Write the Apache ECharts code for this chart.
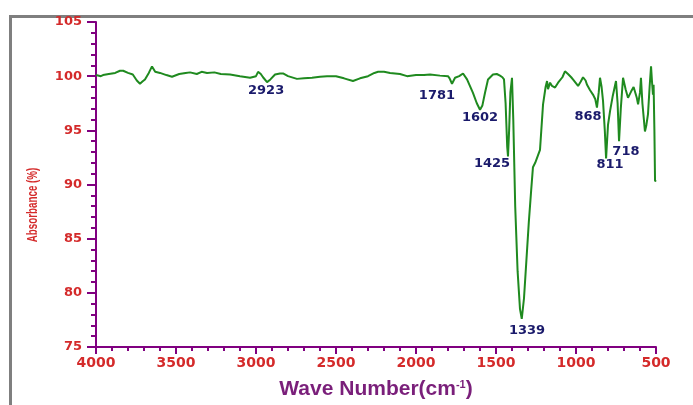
<!DOCTYPE html>
<html>
<head>
<meta charset="utf-8">
<script src="https://cdn.jsdelivr.net/npm/echarts@6/dist/echarts.min.js"></script>
<style>
html,body{margin:0;padding:0;background:#fff;}
#c{width:693px;height:405px;}
</style>
</head>
<body>
<div id="c"></div>
<script>
// Wavenumber (cm-1) and absorbance (%)
const wavenumbers = [4000,3970,3956,3920,3880,3850,3830,3800,3770,3745,3725,3710,3694,3670,3650,3640,3630,3600,3560,3525,3480,3440,3412,3370,3340,3306,3260,3220,3162,3100,3037,3000,2987,2970,2956,2931,2910,2881,2850,2831,2800,2744,2700,2650,2600,2556,2500,2450,2394,2350,2300,2260,2237,2200,2162,2100,2056,2000,1950,1912,1850,1800,1790,1775,1756,1730,1706,1681,1644,1620,1600,1585,1569,1550,1519,1495,1475,1460,1450,1440,1430,1425,1418,1410,1400,1392,1380,1365,1350,1339,1325,1310,1295,1280,1269,1255,1244,1225,1206,1190,1181,1175,1162,1150,1131,1112,1100,1085,1069,1050,1030,1019,987,970,956,940,931,912,894,880,869,858,850,840,831,820,812,800,787,770,750,740,731,720,706,690,675,655,640,631,620,612,600,594,585,569,560,550,540,531,525,519,515,510,506,500];
const absorbance = [100.1,100.0,100.1,100.2,100.3,100.5,100.5,100.3,100.15,99.6,99.3,99.5,99.7,100.3,100.9,100.8,100.4,100.3,100.1,99.95,100.2,100.3,100.35,100.2,100.4,100.3,100.35,100.2,100.15,100.0,99.85,100.0,100.4,100.2,99.9,99.45,99.7,100.15,100.25,100.25,100.0,99.75,99.8,99.85,99.95,100.0,100.0,99.8,99.55,99.8,100.0,100.3,100.4,100.4,100.3,100.2,100.0,100.1,100.1,100.15,100.05,100.0,99.8,99.3,99.85,100.0,100.25,99.7,98.45,97.5,96.9,97.3,98.45,99.7,100.15,100.2,100.05,99.9,99.7,97.5,93.5,92.6,95.0,98.5,99.85,96.0,88.0,82.0,78.5,77.6,79.5,83.0,86.5,89.5,91.6,92.0,92.1,93.2,97.4,99.0,99.55,98.8,99.4,99.1,98.95,99.4,99.3,99.9,100.45,100.2,99.9,99.7,99.1,99.5,99.9,99.6,99.2,98.7,98.3,97.9,97.1,98.5,99.85,99.0,97.7,95.0,92.4,95.5,96.8,98.2,99.55,97.5,94.0,97.0,99.85,98.8,98.0,98.6,99.0,99.1,98.0,97.4,98.5,99.85,97.5,94.9,95.5,96.5,99.0,100.9,99.5,98.3,99.2,95.0,90.3,90.4];

// Peak annotations: text and anchor (data units)
const peakLabels = ['2923','1781','1602','1425','1339','868','811','718'];
const peakLabelX = [2937,1869,1600,1525,1306,925,787,688];
const peakLabelY = [98.68,98.17,96.2,91.9,76.55,96.27,91.8,93.0];

const xTicks = {min:500, max:4000, interval:500};
const yTicks = {min:75, max:105, interval:5};

const lineData = wavenumbers.map((w,i)=>[w, absorbance[i]]);
const labelData = peakLabels.map((t,i)=>({value:[peakLabelX[i], peakLabelY[i]], name:t}));

const purple = '#800080';
const red = '#d42a2a';

const chart = echarts.init(document.getElementById('c'));
chart.setOption({
  backgroundColor:'#ffffff',
  animation:false,
  graphic:[{
    type:'rect', left:8, top:14, z:-1,
    shape:{width:720, height:420},
    style:{fill:'none', stroke:'#7f7f7f', lineWidth:3}
  },{
    type:'text', x:33, y:205, rotation:Math.PI/2, scaleX:0.7, scaleY:1,
    style:{text:'Absorbance (%)', fill:red, font:'bold 14px "Liberation Sans", Arial, sans-serif', textAlign:'center', textVerticalAlign:'middle'}
  }],
  grid:{left:96, right:37, top:22, bottom:58},
  xAxis:{
    type:'value', inverse:true,
    min:xTicks.min, max:xTicks.max, interval:xTicks.interval,
    name:'{a|Wave Number(cm}{s|-1}{a|)}',
    nameLocation:'middle', nameGap:32,
    nameTextStyle:{
      rich:{
        a:{fontFamily:'Liberation Sans, Arial', fontWeight:'bold', fontSize:21, color:'#7a1f7a'},
        s:{fontFamily:'Liberation Sans, Arial', fontWeight:'bold', fontSize:11, color:'#7a1f7a', verticalAlign:'top', padding:[0,0,10,0]}
      }
    },
    axisLine:{lineStyle:{color:purple, width:2}},
    axisTick:{show:true, length:7, lineStyle:{color:purple, width:2}},
    minorTick:{show:true, splitNumber:5, length:4, lineStyle:{color:purple, width:2}},
    splitLine:{show:false},
    axisLabel:{color:red, fontFamily:'DejaVu Sans', fontWeight:'bold', fontSize:14, margin:9, formatter:v=>String(v)}
  },
  yAxis:{
    type:'value',
    min:yTicks.min, max:yTicks.max, interval:yTicks.interval,
    axisLine:{show:true, lineStyle:{color:purple, width:2}},
    axisTick:{show:true, length:9, lineStyle:{color:purple, width:2}},
    minorTick:{show:true, splitNumber:5, length:5, lineStyle:{color:purple, width:2}},
    splitLine:{show:false},
    axisLabel:{color:red, fontFamily:'DejaVu Sans', fontWeight:'bold', fontSize:13, margin:14, formatter:v=>String(v)}
  },
  series:[{
    type:'line',
    data:lineData,
    showSymbol:false,
    lineStyle:{color:'#1f8a1f', width:2},
    z:3
  },{
    type:'scatter',
    data:labelData,
    symbolSize:0,
    silent:true,
    itemStyle:{opacity:1},
    label:{
      show:true, position:'inside', opacity:1,
      formatter:p=>p.name,
      fontFamily:'DejaVu Sans', fontWeight:'bold', fontSize:13, color:'#1a1a6b'
    },
    z:4
  }]
});
</script>
</body>
</html>
